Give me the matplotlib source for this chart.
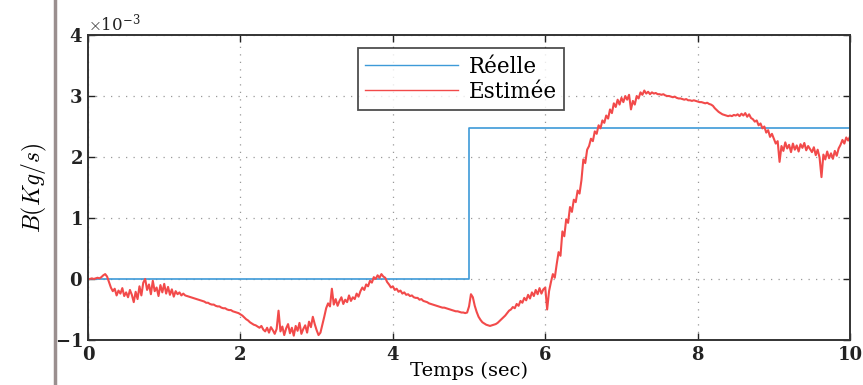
import numpy as np
import matplotlib
matplotlib.use("Agg")
import matplotlib.pyplot as plt
from matplotlib.lines import Line2D

# --- data (B in 10^-3 kg/s) ---
step_t = [0.0, 5.0, 5.0, 10.0]
step_b = [0.0, 0.0, 2.47, 2.47]

# estimate sampled every 0.025 s, one row per half second
est_dt = 0.025
est_b = [
    0.00, 0.00, 0.01, 0.00, 0.01, 0.02, 0.01, 0.03, 0.06, 0.08, 0.04, -0.05, -0.14, -0.20, -0.16, -0.27, -0.19, -0.24, -0.15, -0.28,
    -0.22, -0.30, -0.18, -0.26, -0.38, -0.21, -0.33, -0.12, -0.27, -0.06, 0.00, -0.18, -0.09, -0.25, -0.03, -0.20, -0.14, -0.28, -0.10, -0.22,
    -0.08, -0.24, -0.13, -0.26, -0.17, -0.29, -0.20, -0.25, -0.22, -0.27, -0.24, -0.27, -0.28, -0.29, -0.30, -0.31, -0.32, -0.33, -0.34, -0.35,
    -0.36, -0.37, -0.39, -0.39, -0.41, -0.42, -0.42, -0.44, -0.45, -0.45, -0.47, -0.48, -0.48, -0.50, -0.51, -0.51, -0.53, -0.54, -0.55, -0.56,
    -0.58, -0.60, -0.63, -0.66, -0.68, -0.71, -0.73, -0.75, -0.76, -0.78, -0.80, -0.77, -0.83, -0.86, -0.80, -0.88, -0.79, -0.84, -0.90, -0.82,
    -0.52, -0.86, -0.78, -0.92, -0.81, -0.74, -0.89, -0.80, -0.93, -0.77, -0.85, -0.72, -0.90, -0.82, -0.76, -0.88, -0.70, -0.79, -0.62, -0.74,
    -0.84, -0.92, -0.88, -0.75, -0.62, -0.48, -0.40, -0.45, -0.16, -0.42, -0.33, -0.44, -0.36, -0.30, -0.41, -0.34, -0.38, -0.27, -0.36, -0.30,
    -0.33, -0.24, -0.29, -0.20, -0.14, -0.18, -0.09, -0.12, -0.03, -0.06, 0.03, 0.00, 0.06, 0.02, 0.08, 0.04, 0.02, -0.05, -0.09, -0.14,
    -0.12, -0.18, -0.16, -0.21, -0.19, -0.24, -0.22, -0.26, -0.25, -0.28, -0.27, -0.30, -0.31, -0.31, -0.34, -0.33, -0.36, -0.37, -0.38, -0.40,
    -0.41, -0.42, -0.43, -0.44, -0.45, -0.46, -0.47, -0.47, -0.48, -0.49, -0.50, -0.51, -0.52, -0.53, -0.53, -0.54, -0.55, -0.55, -0.56, -0.55,
    -0.45, -0.25, -0.30, -0.44, -0.54, -0.62, -0.67, -0.71, -0.73, -0.75, -0.76, -0.77, -0.76, -0.75, -0.74, -0.72, -0.69, -0.66, -0.63, -0.60,
    -0.56, -0.52, -0.50, -0.46, -0.48, -0.41, -0.44, -0.36, -0.39, -0.31, -0.35, -0.26, -0.32, -0.22, -0.28, -0.18, -0.25, -0.15, -0.24, -0.17,
    -0.14, -0.50, -0.20, -0.05, 0.08, 0.02, 0.24, 0.44, 0.38, 0.78, 0.70, 0.98, 0.92, 1.18, 1.10, 1.30, 1.26, 1.45, 1.40, 1.62,
    1.96, 1.90, 2.12, 2.18, 2.30, 2.26, 2.42, 2.38, 2.52, 2.47, 2.60, 2.56, 2.68, 2.63, 2.78, 2.72, 2.88, 2.82, 2.94, 2.86,
    2.97, 2.90, 3.00, 2.94, 3.02, 2.78, 2.92, 2.86, 3.00, 2.96, 3.06, 3.02, 3.09, 3.04, 3.07, 3.03, 3.06, 3.04, 3.05, 3.03,
    3.03, 3.02, 3.03, 3.01, 3.00, 3.00, 2.99, 2.98, 2.99, 2.97, 2.96, 2.96, 2.95, 2.94, 2.95, 2.93, 2.93, 2.92, 2.93, 2.92,
    2.91, 2.90, 2.90, 2.89, 2.88, 2.89, 2.87, 2.86, 2.84, 2.80, 2.77, 2.74, 2.72, 2.70, 2.69, 2.68, 2.67, 2.68, 2.67, 2.69,
    2.68, 2.70, 2.67, 2.71, 2.68, 2.72, 2.66, 2.70, 2.64, 2.62, 2.58, 2.60, 2.52, 2.55, 2.47, 2.50, 2.40, 2.44, 2.33, 2.38,
    2.30, 2.22, 2.26, 1.92, 2.18, 2.10, 2.24, 2.14, 2.20, 2.08, 2.22, 2.12, 2.19, 2.09, 2.21, 2.15, 2.23, 2.11, 2.18, 2.13,
    2.08, 2.16, 2.03, 2.12, 1.99, 1.67, 2.04, 1.96, 2.09, 1.98, 2.06, 1.97, 2.10, 2.02, 2.14, 2.20, 2.28, 2.22, 2.32, 2.27,
    2.34,
]
est_t = np.arange(len(est_b)) * est_dt

plt.rcParams['font.family'] = 'DejaVu Serif'
plt.rcParams['mathtext.fontset'] = 'cm'

fig = plt.figure(figsize=(8.63, 3.85), dpi=100)
ax = fig.add_axes([0.102, 0.117, 0.883, 0.792])

ax.plot(step_t, np.array(step_b) * 1e-3, color='#3d9ad8', lw=1.2, label='Réelle')
ax.plot(est_t, np.array(est_b) * 1e-3, color='#f24a4a', lw=1.5, label='Estimée')

ax.set_xlim(0, 10)
ax.set_ylim(-1e-3, 4e-3)
ax.set_xticks([0, 2, 4, 6, 8, 10])
ax.set_yticks(np.arange(-1, 5) * 1e-3)
ax.ticklabel_format(axis='y', style='sci', scilimits=(0, 0), useMathText=True)
ax.yaxis.get_offset_text().set_fontsize(12)

ax.grid(True, color='#999999', linestyle=(0, (1, 5)), linewidth=0.9)
ax.tick_params(direction='in', length=5, width=1.0, top=True, right=True,
               labelsize=13, colors='#222222', pad=4)
for lbl in ax.get_xticklabels() + ax.get_yticklabels():
    lbl.set_fontweight('bold')
for s in ax.spines.values():
    s.set_linewidth(1.4)
    s.set_color('#333333')

ax.set_xlabel('Temps (sec)', fontsize=14, labelpad=-1)
ax.set_ylabel(r'$B(Kg/s)$', fontsize=17, labelpad=4)

leg = ax.legend(loc='upper left', bbox_to_anchor=(0.354, 0.957), fontsize=15.5,
                frameon=True, fancybox=False, handlelength=4.3, borderpad=0.35,
                labelspacing=0.15, handletextpad=0.5, borderaxespad=0)
leg.get_frame().set_edgecolor('#222222')
leg.get_frame().set_linewidth(1.3)
for h in leg.get_lines():
    h.set_linewidth(1.0)

# page edge line
fig.add_artist(Line2D([55 / 863, 55 / 863], [0, 1], transform=fig.transFigure,
                      color='#9a8f8f', lw=2.5))

fig.savefig('out.png', dpi=100, facecolor='white')
